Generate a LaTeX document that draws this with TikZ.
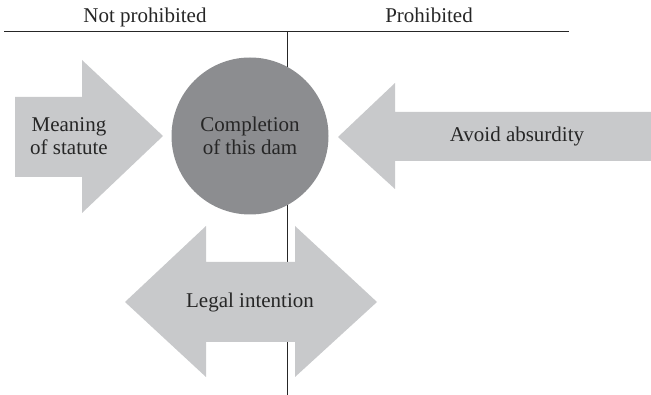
\documentclass[tikz,border=0pt]{standalone}
\usepackage{fontspec}
\setmainfont{Liberation Serif}
\usetikzlibrary{positioning}
\definecolor{shaftgray}{RGB}{200,201,203}
\definecolor{damgray}{RGB}{140,141,144}

\begin{document}
\begin{tikzpicture}[
  x=1pt, y=-1pt,
  txt/.style={font=\fontsize{21}{23}\selectfont, align=center, text=black!85, inner sep=0pt},
  shaft/.style={fill=shaftgray},
  axis/.style={draw=black!85, line width=1pt}
]
\useasboundingbox (0,0) rectangle (651,395);

% headings and the two dividing lines
\node[txt, anchor=base] (free) at (145,23) {Not prohibited};
\node[txt, anchor=base] (banned) at (429,23) {Prohibited};
\coordinate (ruleL) at (4,32);
\coordinate (ruleR) at (569,32);
\coordinate (ruleT) at (287,32);
\coordinate (ruleB) at (287,395);
\draw[axis] (ruleL) -- (ruleR);
\draw[axis] (ruleT) -- (ruleB);

% block arrows
\fill[shaft] (15,97) -- (82,97) -- (82,60) -- (163,136) -- (82,213) -- (82,177) -- (15,177) -- cycle;
\fill[shaft] (651,112) -- (395,112) -- (395,83) -- (338,137) -- (395,189) -- (395,161) -- (651,161) -- cycle;
\fill[shaft] (206,262) -- (295,262) -- (295,226) -- (377,302) -- (295,377) -- (295,342)
  -- (206,342) -- (206,377) -- (125,302) -- (206,226) -- cycle;

\node[txt, circle, fill=damgray, minimum size=157pt] (dam) at (250,136) {Completion\\of this dam};
\node[txt] (meaning) at (69,136) {Meaning\\of statute};
\node[txt] (absurd) at (517,136) {Avoid absurdity};
\node[txt] (intent) at (250,302) {Legal intention};
\end{tikzpicture}
\end{document}
